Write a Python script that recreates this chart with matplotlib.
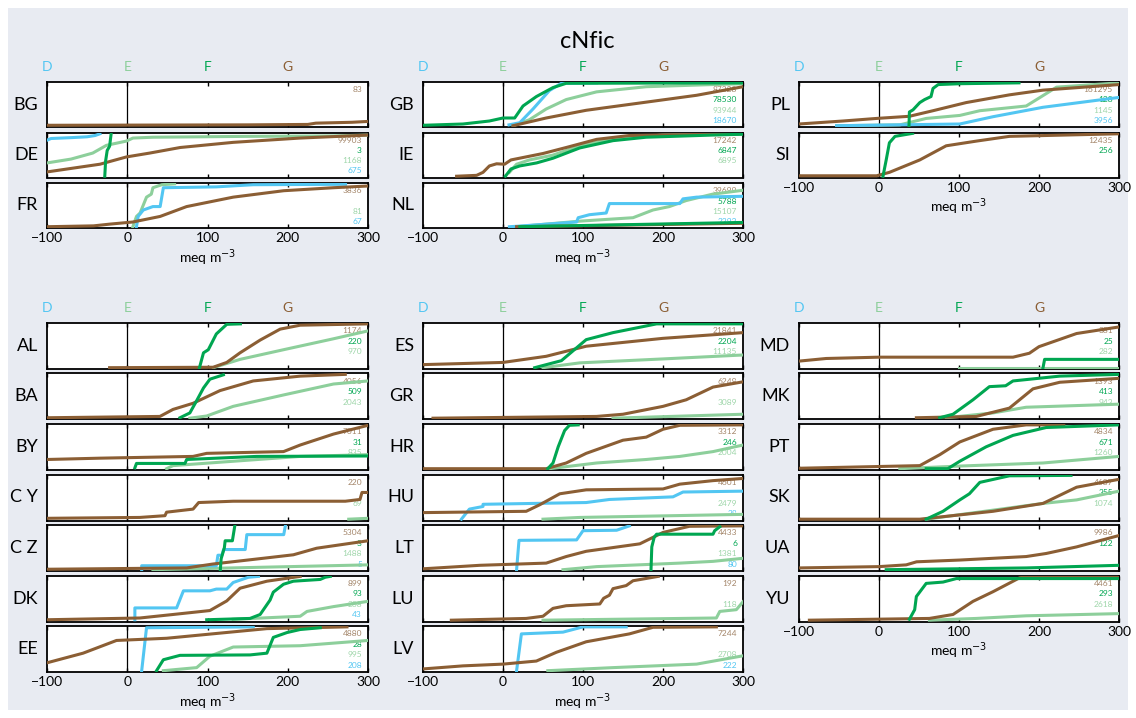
import matplotlib
matplotlib.use("Agg")
import matplotlib.pyplot as plt
from matplotlib.patches import Rectangle
from matplotlib.transforms import blended_transform_factory

plt.rcParams["font.family"] = ["Lato", "DejaVu Sans"]

# ---- data: cumulative fraction (0..1) vs concentration (meq m-3) ----
BG_brown = [(-100, 0.01), (150, 0.02), (225, 0.03), (235, 0.06), (280, 0.08), (300, 0.1)]

DE_blue = [(-100, 0.84), (-95, 0.88), (-70, 0.9), (-50, 0.92), (-40, 0.95), (-34, 0.99)]
DE_green = [(-28, 0), (-27, 0.35), (-25, 0.6), (-22, 0.7), (-20, 1.0)]
DE_lgreen = [(-100, 0.31), (-70, 0.4), (-43, 0.54), (-26, 0.72), (-1, 0.82), (7, 0.89),
             (32, 0.91), (150, 0.93), (257, 0.94), (300, 0.96)]
DE_brown = [(-100, 0.1), (-34, 0.28), (-1, 0.45), (28, 0.54), (66, 0.67), (132, 0.79),
            (215, 0.89), (300, 0.96)]

FR_brown = [(-100, 0), (-42, 0.02), (-22, 0.06), (7, 0.11), (41, 0.24), (74, 0.47),
            (132, 0.69), (195, 0.84), (257, 0.91), (300, 0.95)]
FR_lgreen = [(7, 0), (11.5, 0.24), (16, 0.32), (24, 0.69), (30, 0.76), (32, 0.91),
             (43, 0.98), (59, 1.0)]
FR_blue = [(11.5, 0), (13.6, 0.24), (20, 0.39), (32, 0.47), (41, 0.47), (45, 0.91),
           (111, 0.93), (157, 0.98), (272, 0.99)]

GB_green = [(-100, 0.01), (-50, 0.04), (-17, 0.11), (0, 0.18), (14.6, 0.18), (25, 0.46),
            (41.7, 0.68), (62.5, 0.89), (79, 0.99), (300, 1.0)]
GB_blue = [(7.5, 0.02), (21, 0.07), (37.5, 0.39), (58, 0.82), (73, 0.99), (117, 1.0)]
GB_lgreen = [(12.5, 0), (33, 0.14), (54, 0.39), (79, 0.61), (117, 0.79), (179, 0.91),
             (262, 0.96), (300, 0.98)]
GB_brown = [(12.5, 0), (54, 0.18), (104, 0.36), (179, 0.55), (242, 0.71), (300, 0.91)]

IE_brown = [(-58, 0), (-33, 0.02), (-25, 0.09), (-17, 0.24), (-8, 0.29), (2, 0.28),
            (10, 0.38), (50, 0.53), (79, 0.67), (117, 0.86), (158, 0.95), (300, 0.99)]
IE_lgreen = [(8, 0.09), (17, 0.28), (33, 0.38), (62, 0.49), (96, 0.71), (137.5, 0.88),
             (200, 0.96), (300, 0.99)]
IE_green = [(3, 0), (10, 0.17), (21, 0.24), (42, 0.31), (62.5, 0.42), (96, 0.66),
            (137.5, 0.83), (179, 0.91), (262, 0.96), (300, 0.98)]

NL_blue = [(8, 0), (17, 0.01), (92, 0.11), (94, 0.21), (108, 0.28), (129, 0.32), (133, 0.54),
           (221, 0.54), (225, 0.65), (242, 0.69), (300, 0.71)]
NL_lgreen = [(17, 0), (96, 0.13), (162.5, 0.21), (187.5, 0.39), (208, 0.47), (229, 0.61),
             (262, 0.76), (300, 0.85)]
NL_green = [(21, 0), (300, 0.1)]
NL_brown = [(17, 0), (300, 0.08)]

PL_brown = [(-100, 0.04), (-45, 0.11), (-3, 0.17), (38, 0.22), (67.5, 0.35), (109, 0.54),
            (163, 0.72), (205, 0.83), (300, 0.96)]
PL_green = [(37.5, 0), (38, 0.32), (42.5, 0.37), (51, 0.54), (57, 0.61), (65, 0.68),
            (67.5, 0.87), (74, 0.96), (101, 0.98), (175, 1.0)]
PL_lgreen = [(-53, 0), (26, 0.02), (59, 0.17), (101, 0.24), (126, 0.35), (184, 0.46),
             (197, 0.61), (222, 0.9), (300, 1.0)]
PL_blue = [(-53, 0), (101, 0.04), (142.5, 0.21), (205, 0.43), (300, 0.66)]

SI_brown = [(-100, 0.01), (-3, 0.01), (13, 0.09), (51, 0.38), (84, 0.71), (122, 0.82),
            (163, 0.93), (300, 0.99)]
SI_green = [(5, 0), (9, 0.38), (13, 0.78), (20, 0.93), (42, 1.0)]

AL_brown = [(-22, 0), (107, 0.01), (124, 0.12), (140.6, 0.34), (165.6, 0.63), (190.5, 0.88),
            (215.5, 0.97), (300, 1.0)]
AL_green = [(90, 0), (95, 0.34), (101, 0.41), (111, 0.77), (124, 0.99), (141, 1.0)]
AL_lgreen = [(107, 0), (140.6, 0.19), (194.7, 0.41), (257, 0.66), (300, 0.84)]

BA_brown = [(-100, 0.01), (40.7, 0.04), (57, 0.2), (82, 0.34), (115.6, 0.63), (157, 0.85),
            (215.5, 0.96), (271.7, 1.0)]
BA_green = [(65.7, 0.01), (78, 0.12), (86.5, 0.4), (95, 0.69), (103, 0.89), (119.8, 0.99)]
BA_lgreen = [(78, 0), (99, 0.05), (132, 0.27), (194.7, 0.53), (257, 0.78), (300, 0.85)]

BY_brown = [(-100, 0.21), (-34, 0.24), (82, 0.28), (99, 0.35), (194.7, 0.39), (215.5, 0.54),
            (257, 0.79), (300, 0.99)]
BY_green = [(9.5, 0.02), (11.5, 0.12), (72, 0.12), (74, 0.21), (161, 0.28), (300, 0.29)]
BY_lgreen = [(49, 0), (57, 0.07), (215.5, 0.28), (300, 0.32)]

CY_brown = [(-100, 0.02), (15.7, 0.04), (47, 0.08), (49, 0.16), (82, 0.23), (89, 0.38),
            (132, 0.41), (271.7, 0.41), (290, 0.45), (292.5, 0.61), (300, 0.61)]
CY_lgreen = [(276, 0), (300, 0.02)]

CZ_brown = [(-100, 0.01), (74, 0.04), (107, 0.13), (174, 0.27), (207, 0.34), (236, 0.49),
            (300, 0.66)]
CZ_lgreen = [(32, 0), (300, 0.11)]
CZ_blue = [(18, 0), (18, 0.09), (111, 0.09), (113, 0.33), (118, 0.33), (120, 0.46),
           (147, 0.46), (149, 0.8), (195, 0.8), (197, 1.0)]
CZ_green = [(116, 0), (117, 0.25), (121, 0.5), (122, 0.66), (131, 0.66), (134, 1.0)]

DK_brown = [(-100, 0.01), (15.7, 0.05), (57, 0.13), (103, 0.22), (124, 0.44), (140.6, 0.73),
            (174, 0.89), (215.5, 1.0)]
DK_blue = [(9.5, 0.01), (9.5, 0.28), (61.5, 0.28), (70, 0.67), (103, 0.67), (111, 0.71),
           (124, 0.71), (132, 0.86), (151, 0.98), (163.5, 1.0)]
DK_green = [(99, 0.01), (153, 0.04), (165.6, 0.13), (178, 0.46), (182, 0.64), (194.7, 0.82),
            (207, 0.89), (240.5, 0.93), (246.7, 0.98), (253, 1.0)]
DK_lgreen = [(132, 0.02), (215.5, 0.09), (224, 0.2), (257, 0.31), (300, 0.43)]

EE_brown = [(-100, 0.18), (-55, 0.4), (-13.4, 0.69), (49, 0.74), (111.4, 0.85), (174, 0.96),
            (273.8, 1.0)]
EE_blue = [(18, 0), (24, 0.98), (157, 1.0)]
EE_green = [(36.5, 0), (45, 0.25), (65.7, 0.35), (153, 0.36), (174, 0.4), (182, 0.76),
            (199, 0.87), (215.5, 0.94), (240.5, 0.98)]
EE_lgreen = [(45, 0), (86.5, 0.07), (103, 0.33), (132, 0.54), (215.5, 0.57), (300, 0.69)]

ES_brown = [(-100, 0.07), (0, 0.12), (54, 0.26), (104, 0.49), (200, 0.67), (300, 0.8)]
ES_green = [(39.6, 0), (73, 0.16), (104, 0.64), (137.5, 0.8), (192, 1.0), (300, 1.0)]
ES_lgreen = [(50, 0), (96, 0.11), (200, 0.2), (300, 0.29)]

GR_brown = [(-87.5, 0), (117, 0.04), (150, 0.09), (200, 0.27), (229, 0.42), (262.5, 0.71),
            (300, 0.83)]
GR_lgreen = [(137.5, 0), (300, 0.09)]

HR_brown = [(-100, 0), (54, 0), (79, 0.13), (104, 0.35), (150, 0.65), (179, 0.72), (200, 0.9),
            (221, 0.99), (300, 1.0)]
HR_green = [(56, 0), (62.5, 0.13), (69, 0.5), (77, 0.87), (83, 0.99), (94, 1.0)]
HR_lgreen = [(58, 0), (117, 0.13), (179, 0.21), (221, 0.28), (262.5, 0.39), (300, 0.54)]

HU_brown = [(-100, 0.15), (29, 0.18), (46, 0.33), (71, 0.58), (104, 0.67), (200, 0.69),
            (221, 0.8), (262.5, 0.88), (300, 0.93)]
HU_blue = [(-52, 0), (-42, 0.23), (-25, 0.29), (-25, 0.34), (104, 0.38), (133, 0.45),
           (212.5, 0.51), (225, 0.62), (300, 0.64)]
HU_lgreen = [(50, 0), (96, 0.04), (300, 0.11)]

LT_brown = [(-100, 0.02), (-29, 0.1), (54, 0.15), (79, 0.3), (104, 0.42), (171, 0.59),
            (200, 0.85), (233, 0.99), (300, 1.0)]
LT_blue = [(17, 0), (20, 0.67), (92, 0.68), (100, 0.89), (142, 0.9), (158, 1.0)]
LT_green = [(185, 0), (186, 0.52), (189, 0.74), (192, 0.81), (262.5, 0.81), (264.6, 0.89),
            (271, 0.98)]
LT_lgreen = [(75, 0), (117, 0.07), (221, 0.15), (262.5, 0.19), (300, 0.26)]

LU_brown = [(-64.6, 0), (29, 0.04), (50, 0.09), (62.5, 0.27), (79, 0.33), (121, 0.37),
            (125.8, 0.5), (133, 0.57), (137.5, 0.72), (154, 0.79), (162.5, 0.9), (194, 1.0)]
LU_lgreen = [(50, 0), (266.7, 0.05), (271, 0.2), (291.7, 0.24), (300, 0.42)]

LV_brown = [(-100, 0.04), (-50, 0.11), (0, 0.15), (41.7, 0.22), (66.7, 0.42), (104, 0.66),
            (158, 0.84), (187.5, 0.99), (266.7, 1.0)]
LV_blue = [(17, 0), (23, 0.84), (75, 0.88), (100, 1.0), (154, 1.0)]
LV_lgreen = [(56, 0), (137.5, 0.07), (242, 0.15), (300, 0.34)]

MD_brown = [(-100, 0.15), (-66, 0.21), (0, 0.24), (167.5, 0.24), (188, 0.33), (200, 0.48),
            (247, 0.78), (300, 0.93)]
MD_lgreen = [(100, 0), (300, 0)]
MD_green = [(205, 0), (207, 0.19), (300, 0.19)]

MK_brown = [(46.7, 0.01), (121.7, 0.04), (163, 0.23), (192.5, 0.67), (226, 0.82), (300, 0.91)]
MK_green = [(75.8, 0.01), (92.5, 0.09), (117.5, 0.42), (138, 0.72), (158.3, 0.74),
            (167.5, 0.85), (225.8, 0.96), (300, 1.0)]
MK_lgreen = [(84, 0.01), (142.5, 0.12), (184, 0.25), (300, 0.32)]

PT_brown = [(-100, 0.01), (51, 0.07), (76, 0.32), (101, 0.61), (142.5, 0.9), (184, 1.0),
            (231, 1.0)]
PT_green = [(59, 0), (86, 0), (101, 0.17), (134, 0.5), (167.5, 0.76), (209, 0.94), (300, 1.0)]
PT_lgreen = [(26, 0), (101, 0.06), (205, 0.13), (300, 0.28)]

SK_green = [(59, 0), (80, 0.18), (101, 0.44), (113, 0.58), (126, 0.84), (163, 0.99), (240, 1.0)]
SK_brown = [(-100, 0), (51, 0), (142.5, 0.18), (205, 0.36), (247, 0.73), (300, 0.91)]
SK_lgreen = [(59, 0), (205, 0.36), (247, 0.44), (300, 0.64)]

UA_brown = [(-100, 0.04), (0, 0.07), (34, 0.11), (47, 0.18), (101, 0.22), (184, 0.3),
            (209, 0.37), (247, 0.52), (300, 0.78)]
UA_green = [(9, 0), (184, 0.04), (300, 0.1)]

YU_brown = [(-87, 0), (63, 0.04), (92.5, 0.13), (117.5, 0.43), (142.5, 0.65), (176, 0.97),
            (192.5, 1.0), (300, 1.0)]
YU_green = [(38, 0.02), (44.6, 0.24), (46.7, 0.54), (59, 0.84), (80, 0.87), (96.7, 0.95),
            (300, 0.95)]
YU_lgreen = [(63, 0), (121.7, 0.04), (184, 0.1), (300, 0.15)]

# sample counts per series: brown, green, light green, blue
COUNTS = {
    "BG": ["83", None, None, None], "DE": ["99903", "3", "1168", "675"],
    "FR": ["3836", None, "81", "67"], "GB": ["87328", "78530", "93944", "18670"],
    "IE": ["17242", "6847", "6895", None], "NL": ["39699", "5788", "15107", "2392"],
    "PL": ["161295", "128", "1145", "3956"], "SI": ["12435", "256", None, None],
    "AL": ["1174", "220", "970", None], "BA": ["4056", "509", "2043", None],
    "BY": ["7011", "31", "835", None], "CY": ["220", None, "69", None],
    "CZ": ["5304", "3", "1488", "5"], "DK": ["899", "93", "208", "43"],
    "EE": ["4880", "28", "995", "208"], "ES": ["21841", "2204", "11135", None],
    "GR": ["6248", None, "3089", None], "HR": ["3312", "246", "2004", None],
    "HU": ["4601", None, "2479", "28"], "LT": ["4433", "6", "1381", "80"],
    "LU": ["192", None, "118", None], "LV": ["7244", None, "2708", "222"],
    "MD": ["381", "25", "282", None], "MK": ["1393", "413", "943", None],
    "PT": ["4834", "671", "1260", None], "SK": ["4687", "355", "1074", None],
    "UA": ["9986", "122", None, None], "YU": ["4461", "293", "2618", None],
}

GROUPS = [
    ["BG", "DE", "FR"], ["GB", "IE", "NL"], ["PL", "SI"],
    ["AL", "BA", "BY", "CY", "CZ", "DK", "EE"],
    ["ES", "GR", "HR", "HU", "LT", "LU", "LV"],
    ["MD", "MK", "PT", "SK", "UA", "YU"],
]
ROW_NAMES = {"CY": "C Y", "CZ": "C Z"}
LETTERS = ["D", "E", "F", "G"]
LETTER_X = [-100, 0, 100, 200]

C_BROWN = "#8b5e34"
C_GREEN = "#00a651"
C_LGREEN = "#8dcf9b"
C_BLUE = "#52c6f2"
SERIES = [("lgreen", C_LGREEN), ("blue", C_BLUE), ("brown", C_BROWN), ("green", C_GREEN)]
TXT_COLORS = ["#a4866a", C_GREEN, "#9fd6aa", C_BLUE]
SLOTS = [0.83, 0.60, 0.37, 0.15]

W, H = 1136, 718
fig = plt.figure(figsize=(W / 100, H / 100), dpi=100, facecolor="white")
fig.patches.append(Rectangle((8 / W, 8 / H), 1 - 16 / W, 1 - 16 / H, transform=fig.transFigure,
                             facecolor="#e8ebf2", edgecolor="none", zorder=-10))

fig.text(587 / W, 1 - 42 / H, "cNfic", ha="center", va="center", fontsize=17)

# group placement in pixels: left, first top, width, panel height
PLACES = [(47, 82, 321, 45), (423, 82, 320, 45), (799, 82, 320, 45),
          (47, 323, 321, 46), (423, 323, 320, 46), (799, 323, 320, 46)]
PITCH = 50.5

for names, (left, top0, width, height) in zip(GROUPS, PLACES):
    for i, name in enumerate(names):
        top = top0 + i * PITCH
        ax = fig.add_axes([left / W, 1 - (top + height) / H, width / W, height / H])
        ax.set_xlim(-100, 300)
        ax.set_ylim(-0.03, 1.02)
        ax.axvline(0, color="black", lw=0.9, zorder=1)
        for key, col in SERIES:
            pts = globals().get(f"{name}_{key}")
            if pts is None:
                continue
            xs = [p[0] for p in pts]
            ys = [p[1] for p in pts]
            ax.plot(xs, ys, color=col, lw=2.2, zorder=3, solid_joinstyle="round")
        for txt, yy, tc in zip(COUNTS[name], SLOTS, TXT_COLORS):
            if txt:
                ax.text(1 - 6 / width, yy, txt, transform=ax.transAxes, ha="right",
                        va="center", fontsize=6, color=tc, zorder=2)
        ax.set_yticks([])
        ax.set_xticks([-100, 0, 100, 200, 300])
        ax.tick_params(axis="x", direction="in", top=True, bottom=True, length=3,
                       width=1, labelsize=10, pad=3)
        for sp in ax.spines.values():
            sp.set_linewidth(1.3)
        ax.text(-9 / width, 0.5, ROW_NAMES.get(name, name), transform=ax.transAxes,
                ha="right", va="center", fontsize=13)
        if i == 0:
            tr = blended_transform_factory(ax.transData, ax.transAxes)
            for lab, lx, lc in zip(LETTERS, LETTER_X, [C_BLUE, C_LGREEN, C_GREEN, C_BROWN]):
                ax.text(lx, 1 + 15 / height, lab, transform=tr, ha="center", va="center",
                        fontsize=10, color=lc)
        if i == len(names) - 1:
            ax.set_xlabel("meq m$^{-3}$", fontsize=10, labelpad=2)
        else:
            ax.set_xticklabels([])

fig.savefig("out.png", dpi=100, facecolor=fig.get_facecolor())
